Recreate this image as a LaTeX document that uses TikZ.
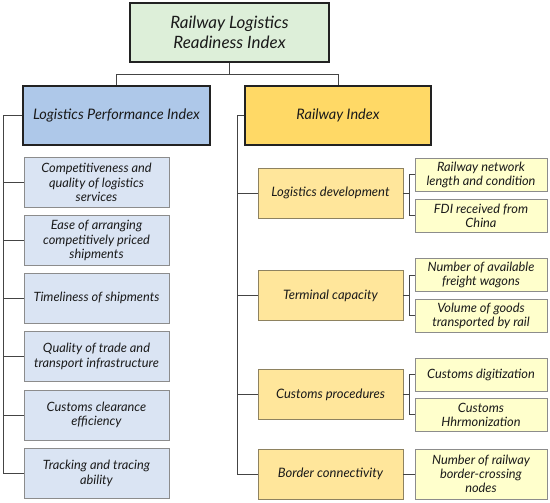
\documentclass[tikz,border=0pt]{standalone}
\usepackage{fontspec}
\setmainfont{Lato}
\definecolor{topfill}{HTML}{DDEFD9}
\definecolor{lpifill}{HTML}{AEC8E9}
\definecolor{rifill}{HTML}{FFD966}
\definecolor{lchfill}{HTML}{DAE4F3}
\definecolor{midfill}{HTML}{FFE69B}
\definecolor{rchfill}{HTML}{FFFFCC}
\definecolor{darkedge}{HTML}{222222}
\definecolor{grayedge}{HTML}{8C8C8C}
\definecolor{midedge}{HTML}{8E8260}
\definecolor{linecol}{HTML}{444444}
\definecolor{textcol}{HTML}{1A1A1A}
\begin{document}
\begin{tikzpicture}[x=1pt,y=-1pt,
  base/.style={align=center,inner sep=1pt,text=textcol},
  topbox/.style={base,draw=darkedge,line width=1.6pt,fill=topfill,minimum width=199pt,minimum height=59pt,font=\itshape\fontsize{17}{20}\selectfont},
  lpibox/.style={base,draw=darkedge,line width=1.6pt,fill=lpifill,minimum width=187pt,minimum height=59pt,font=\itshape\fontsize{14.5}{17}\selectfont},
  ribox/.style={base,draw=darkedge,line width=1.6pt,fill=rifill,minimum width=186pt,minimum height=59pt,font=\itshape\fontsize{14.5}{17}\selectfont},
  lchbox/.style={base,draw=grayedge,line width=0.9pt,fill=lchfill,minimum width=145pt,minimum height=50pt,font=\itshape\fontsize{12.8}{14.3}\selectfont},
  midbox/.style={base,draw=midedge,line width=0.9pt,fill=midfill,minimum width=145pt,minimum height=50pt,font=\itshape\fontsize{13}{14.3}\selectfont},
  rchbox/.style={base,draw=grayedge,line width=0.9pt,fill=rchfill,minimum width=132pt,minimum height=33pt,font=\itshape\fontsize{12.8}{14}\selectfont},
  conn/.style={draw=linecol,line width=0.9pt}
]
\useasboundingbox (0,0) rectangle (550,503);
\fill[white] (0,0) rectangle (550,503);

\node[topbox] (top) at (229.5,32.5) {Railway Logistics\\Readiness Index};
\node[lpibox] (lpi) at (116.5,115.5) {Logistics Performance Index};
\node[ribox] (ri) at (338,115.5) {Railway Index};

\node[lchbox] (l1) at (96.5,182.5) {Competitiveness and\\quality of logistics\\services};
\node[lchbox] (l2) at (96.5,240.5) {Ease of arranging\\competitively priced\\shipments};
\node[lchbox] (l3) at (96.5,298) {Timeliness of shipments};
\node[lchbox] (l4) at (96.5,356.5) {Quality of trade and\\transport infrastructure};
\node[lchbox] (l5) at (96.5,415) {Customs clearance\\efficiency};
\node[lchbox] (l6) at (96.5,473.5) {Tracking and tracing\\ability};

\node[midbox] (m1) at (330.5,193) {Logistics development};
\node[midbox] (m2) at (330.5,295.5) {Terminal capacity};
\node[midbox] (m3) at (330.5,394.5) {Customs procedures};
\node[midbox] (m4) at (330.5,474) {Border connectivity};

\node[rchbox] (r1) at (481,174.5) {Railway network\\length and condition};
\node[rchbox] (r2) at (481,215.5) {FDI received from\\China};
\node[rchbox] (r3) at (481,275) {Number of available\\freight wagons};
\node[rchbox] (r4) at (481,315.5) {Volume of goods\\transported by rail};
\node[rchbox] (r5) at (481,374.5) {Customs digitization};
\node[rchbox] (r6) at (481,414.5) {Customs\\Hhrmonization};
\node[rchbox,minimum height=50pt] (r7) at (481,474) {Number of railway\\border-crossing\\nodes};

% top connectors
\draw[conn] (top.south) -- ++(0,11.5) coordinate (j);
\draw[conn] (j) -| (lpi.north);
\draw[conn] (j) -| (ri.north);

% left spine
\coordinate (ls) at (3,0);
\draw[conn] (lpi.west) -| (ls |- l6.west) -- (l6.west);
\foreach \n in {l1,l2,l3,l4,l5}{\draw[conn] (ls |- \n.west) -- (\n.west);}

% right spine
\coordinate (rs) at (237,0);
\draw[conn] (ri.west) -| (rs |- m4.west) -- (m4.west);
\foreach \n in {m1,m2,m3}{\draw[conn] (rs |- \n.west) -- (\n.west);}

% brackets
\coordinate (bx) at (409,0);
\draw[conn] (m1.east) -- (bx |- m1.east);
\draw[conn] (r1.west) -- (bx |- r1.west) |- (r2.west);
\draw[conn] (m2.east) -- (bx |- m2.east);
\draw[conn] (r3.west) -- (bx |- r3.west) |- (r4.west);
\draw[conn] (m3.east) -- (bx |- m3.east);
\draw[conn] (r5.west) -- (bx |- r5.west) |- (r6.west);
\draw[conn] (m4.east) -- (r7.west);
\end{tikzpicture}
\end{document}
